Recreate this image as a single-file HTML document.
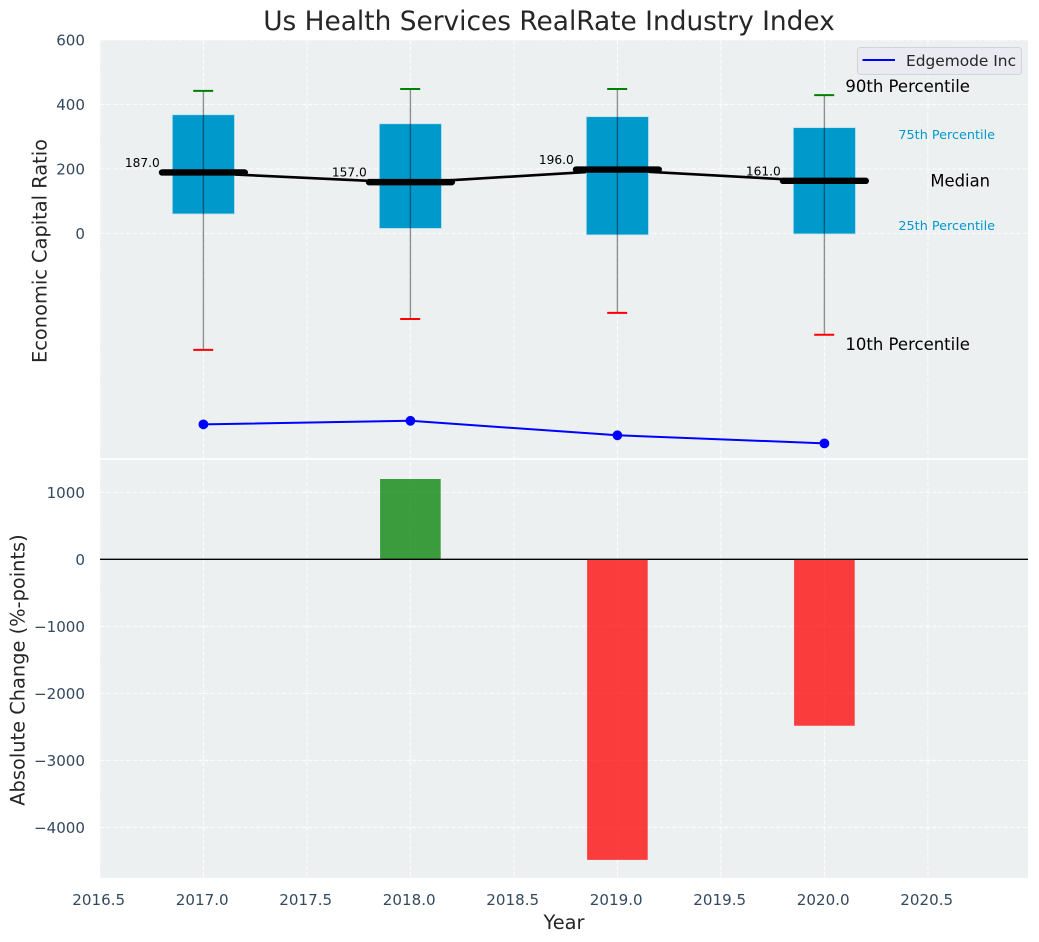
<!DOCTYPE html>
<html lang="en">
<head>
<meta charset="utf-8">
<title>Us Health Services RealRate Industry Index</title>
<style>
html,body{margin:0;padding:0;background:#fff;width:1039px;height:942px;overflow:hidden}
svg{display:block}
text{font-family:"DejaVu Sans","Liberation Sans",sans-serif}
.tick{font-size:15.1px;fill:#34495e}
.axis-title{font-size:19.4px;fill:#262626}
.grid{stroke:#fff;stroke-opacity:.85;stroke-width:1.1;stroke-dasharray:4.5 2}
</style>
</head>
<body>
<svg id="chart" width="1039" height="942" viewBox="0 0 1039 942" xmlns="http://www.w3.org/2000/svg">
  <rect width="1039" height="942" fill="#fff"/>
  <rect x="100" y="40" width="928" height="418.2" fill="#ecf0f1"/>
  <rect x="100" y="459.8" width="928" height="418" fill="#ecf0f1"/>
  <g id="grid-layer"></g>
  <g id="median-line-layer"></g>
  <g id="box-layer"></g>
  <g id="company-layer"></g>
  <g id="bar-layer"></g>
  <line x1="100" x2="1028" y1="559.3" y2="559.3" stroke="#000" stroke-width="1.4"/>
  <g id="tick-layer"></g>
  <g id="label-layer"></g>
  <text x="549" y="30" text-anchor="middle" font-size="26.4" fill="#262626">Us Health Services RealRate Industry Index</text>
  <text class="axis-title" transform="translate(46.5,251) rotate(-90)" text-anchor="middle">Economic Capital Ratio</text>
  <text class="axis-title" transform="translate(24.5,670) rotate(-90)" text-anchor="middle">Absolute Change (%-points)</text>
  <text class="axis-title" x="564" y="929" text-anchor="middle">Year</text>
  <g>
    <rect x="857.5" y="47.5" width="164" height="27" rx="3" fill="#eaeaf2" fill-opacity=".85" stroke="#d2d3d8"/>
    <line x1="862.5" x2="895" y1="60" y2="60" stroke="#0000ff" stroke-width="2"/>
    <text x="906" y="66.2" font-size="15.4" fill="#262626">Edgemode Inc</text>
  </g>
</svg>
<script>
var years = [2017, 2018, 2019, 2020];
var p90 = [442, 448, 448, 429];
var p75 = [368, 340, 362, 328];
var medians = [187, 157, 196, 161];
var p25 = [60, 15, -5, -2];
var p10 = [-362, -266, -247, -315];
var company = [-593, -582, -627, -652];
var changes = [0, 1198, -4484, -2483];
var xTicks = [2016.5, 2017, 2017.5, 2018, 2018.5, 2019, 2019.5, 2020, 2020.5];
var topTicks = [0, 200, 400, 600];
var bottomTicks = [1000, 0, -1000, -2000, -3000, -4000];

var NS = 'http://www.w3.org/2000/svg';
function xScale(v) { return 203.4 + (v - 2017) * 207; }
function yTop(v) { return 233.3 - v * 0.32217; }
function yBottom(v) { return 559.3 - v * 0.06703; }
function make(tag, attrs, parent, txt) {
  var el = document.createElementNS(NS, tag);
  for (var k in attrs) { el.setAttribute(k, attrs[k]); }
  if (txt !== undefined) { el.textContent = txt; }
  parent.appendChild(el);
  return el;
}
var gridLayer = document.getElementById('grid-layer');
var medianLayer = document.getElementById('median-line-layer');
var boxLayer = document.getElementById('box-layer');
var companyLayer = document.getElementById('company-layer');
var barLayer = document.getElementById('bar-layer');
var tickLayer = document.getElementById('tick-layer');
var labelLayer = document.getElementById('label-layer');
var el;

xTicks.forEach(function (t) {
  var x = xScale(t);
  el = make('line', {x1: x, x2: x, y1: 40, y2: 878, 'class': 'grid'}, gridLayer);
  
  
  el = make('text', {x: x - 1.2, y: 905, 'class': 'tick', 'text-anchor': 'middle'}, tickLayer, t.toFixed(1));
  
  
});
topTicks.forEach(function (t) {
  var y = yTop(t);
  el = make('line', {x1: 100, x2: 1028, y1: y, y2: y, 'class': 'grid'}, gridLayer);
  
  
  el = make('text', {x: 85, y: y + 5.5, 'class': 'tick', 'text-anchor': 'end'}, tickLayer, String(t));
  
  
});
bottomTicks.forEach(function (t) {
  var y = yBottom(t);
  el = make('line', {x1: 100, x2: 1028, y1: y, y2: y, 'class': 'grid'}, gridLayer);
  
  
  el = make('text', {x: 85, y: y + 5.5, 'class': 'tick', 'text-anchor': 'end'}, tickLayer, String(t).replace('-', '\u2212'));
  
  
});

el = make('polyline', {
  points: years.map(function (y, i) { return xScale(y) + ',' + yTop(medians[i]); }).join(' '),
  fill: 'none', stroke: '#000', 'stroke-width': 2.6
}, medianLayer);



years.forEach(function (y, i) {
  var x = xScale(y);
  el = make('rect', {x: x - 31.1, y: yTop(p75[i]), width: 62.2, height: yTop(p25[i]) - yTop(p75[i]),
    fill: '#0099cc', stroke: '#bfe3ef', 'stroke-width': 0.8}, boxLayer);
  
  
  el = make('line', {x1: x, x2: x, y1: yTop(p90[i]), y2: yTop(p10[i]), stroke: '#000', 'stroke-opacity': 0.42, 'stroke-width': 1.4}, boxLayer);
  
  
  el = make('line', {x1: x - 10.2, x2: x + 9.8, y1: yTop(p90[i]), y2: yTop(p90[i]), stroke: '#008000', 'stroke-width': 2}, boxLayer);
  
  
  el = make('line', {x1: x - 10.2, x2: x + 9.8, y1: yTop(p10[i]), y2: yTop(p10[i]), stroke: '#ff0000', 'stroke-width': 2}, boxLayer);
  
  
  el = make('line', {x1: x - 41.4, x2: x + 41.4, y1: yTop(medians[i]) - 0.6, y2: yTop(medians[i]) - 0.6, stroke: '#000', 'stroke-width': 6.4, 'stroke-linecap': 'round'}, boxLayer);
  
  
  el = make('text', {x: x - 43.6, y: yTop(medians[i]) - 6, 'font-size': 12.2, fill: '#000', 'text-anchor': 'end'}, labelLayer, medians[i].toFixed(1));
  
  
});

el = make('polyline', {
  points: years.map(function (y, i) { return xScale(y) + ',' + yTop(company[i]); }).join(' '),
  fill: 'none', stroke: '#0000ff', 'stroke-width': 2
}, companyLayer);


years.forEach(function (y, i) {
  el = make('circle', {cx: xScale(y), cy: yTop(company[i]), r: 4.9, fill: '#0000ff'}, companyLayer);
  
  
});

years.forEach(function (y, i) {
  if (changes[i] === 0) { return; }
  var top = Math.min(yBottom(0), yBottom(changes[i]));
  var h = Math.abs(yBottom(changes[i]) - yBottom(0));
  el = make('rect', {x: xScale(y) - 30.3, y: top, width: 60.6, height: h,
    fill: changes[i] > 0 ? '#008000' : '#ff0000', 'fill-opacity': 0.75}, barLayer);
  
  
});

var last = years.length - 1;
var lastX = xScale(years[last]);
el = make('text', {x: lastX + 21, y: yTop(p90[last]) - 3, 'font-size': 16.5, fill: '#000'}, labelLayer, '90th Percentile');


el = make('text', {x: lastX + 74, y: yTop(p75[last]) + 11.5, 'font-size': 12.8, fill: '#0099cc'}, labelLayer, '75th Percentile');


el = make('text', {x: lastX + 106, y: yTop(medians[last]) + 5, 'font-size': 16.4, fill: '#000'}, labelLayer, 'Median');


el = make('text', {x: lastX + 74, y: yTop(p25[last]) - 4, 'font-size': 12.8, fill: '#0099cc'}, labelLayer, '25th Percentile');


el = make('text', {x: lastX + 21, y: yTop(p10[last]) + 15.3, 'font-size': 16.5, fill: '#000'}, labelLayer, '10th Percentile');


</script>
</body>
</html>
